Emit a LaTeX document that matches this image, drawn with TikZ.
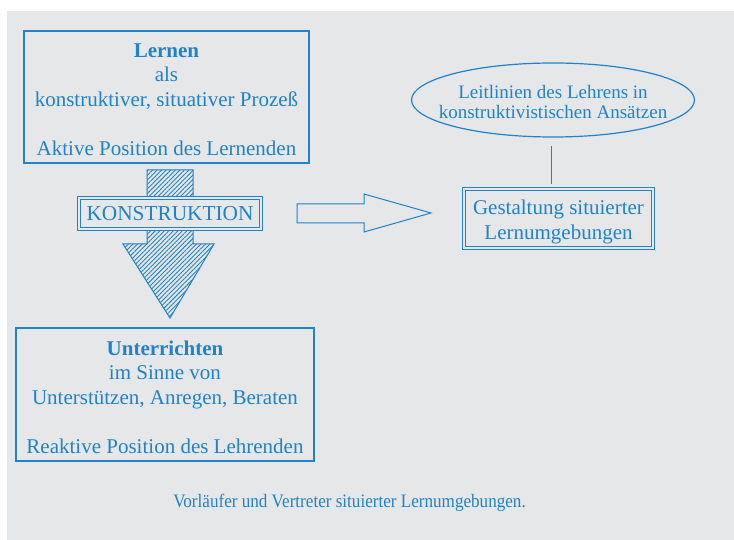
\documentclass[tikz,border=0pt]{standalone}
\usepackage{fontspec}
\setmainfont{Liberation Serif}
\usetikzlibrary{shapes.geometric,patterns.meta}
\definecolor{ink}{HTML}{1F82CA}
\definecolor{paper}{HTML}{E6E7E9}
\tikzset{
  txt/.style={text=ink, align=center, inner sep=0pt},
  big/.style={font=\fontsize{21}{24.5}\selectfont},
  mid/.style={font=\fontsize{19}{20}\selectfont},
  plainbox/.style={draw=ink, line width=1.4pt, fill=paper, inner sep=0pt},
  dblbox/.style={draw=ink, double=paper, double distance=2.4pt, line width=1pt, fill=paper, inner sep=0pt},
}
\begin{document}
\begin{tikzpicture}[x=1pt,y=-1pt]
\useasboundingbox (0,0) rectangle (734,540);
\fill[white] (0,0) rectangle (734,540);
\fill[paper] (7,11) rectangle (734,540);

% hatched down arrow
\path[draw=ink, line width=1pt, pattern={Lines[angle=45,distance=3.2pt,line width=0.9pt]}, pattern color=ink]
  (147,170) -- (193,170) -- (193,244) -- (214,244) -- (170,318) -- (123,244) -- (147,244) -- cycle;

% boxes
\node[plainbox, minimum width=285pt, minimum height=132pt] (lernen) at (166.5,97) {};
\node[txt, big] (lernentxt) at (166.5,99.5)
  {\textbf{Lernen}\\als\\konstruktiver, situativer Prozeß\\[24.5pt]Aktive Position des Lernenden};
\node[plainbox, minimum width=298pt, minimum height=133pt] (unter) at (165,394.5) {};
\node[txt, big] (untertxt) at (165,397)
  {\textbf{Unterrichten}\\im Sinne von\\Unterstützen, Anregen, Beraten\\[24.5pt]Reaktive Position des Lehrenden};
\node[dblbox, txt, font=\fontsize{21.3}{22}\selectfont, minimum width=181.5pt, minimum height=30.5pt] (konst) at (170,213.5) {KONSTRUKTION};
\node[dblbox, minimum width=188.5pt, minimum height=58.5pt] (gest) at (558.5,218.5) {};
\node[txt, font=\fontsize{21}{25}\selectfont] (gesttxt) at (558.5,221.5)
  {Gestaltung situierter\\Lernumgebungen};
\node[ellipse, draw=ink, line width=1.2pt, inner sep=0pt, minimum width=283pt, minimum height=74pt] (ell) at (553,100) {};
\node[txt, mid] (elltxt) at (553,102)
  {Leitlinien des Lehrens in\\konstruktivistischen Ansätzen};

% connector ellipse -- Gestaltung
\coordinate (lt) at ([xshift=-2pt,yshift=-8pt]ell.south);
\coordinate (lb) at (lt |- gest.north);
\draw[ink, line width=1pt] (lt) -- ([yshift=5pt]lb);

% hollow right arrow
\draw[ink, line width=1pt, line join=miter]
  (297,204) -- (364,204) -- (364,194) -- (431,213) -- (364,232) -- (364,223) -- (297,223) -- cycle;

% caption
\node[txt, font=\fontsize{19}{20}\selectfont] (cap) at (349.5,503)
  {\scalebox{0.9}[1]{Vorläufer und Vertreter situierter Lernumgebungen.}};
\end{tikzpicture}
\end{document}
